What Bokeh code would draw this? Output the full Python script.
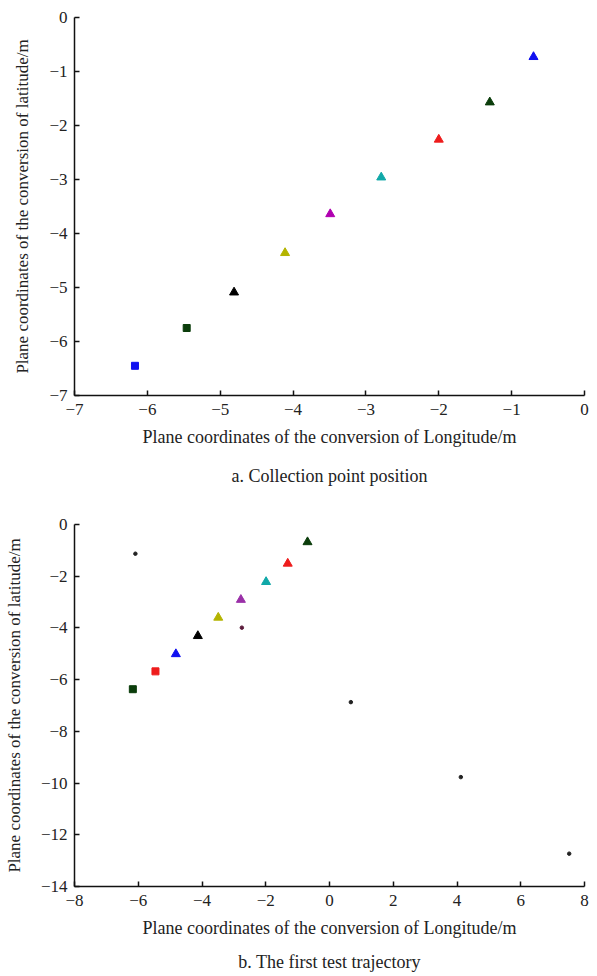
from bokeh.plotting import figure
from bokeh.layouts import column
from bokeh.models import Range1d, FixedTicker, CustomJSTickFormatter, Title
from bokeh.embed import file_html
from bokeh.resources import INLINE

# ---- data: (a) collection point position ----
a_x = [-6.17, -5.46, -4.81, -4.11, -3.49, -2.79, -2.00, -1.30, -0.70]
a_y = [-6.45, -5.75, -5.09, -4.36, -3.64, -2.96, -2.26, -1.57, -0.73]
a_marker = ["square", "square", "triangle", "triangle", "triangle", "triangle", "triangle", "triangle", "triangle"]
a_color = ["#1010f0", "#0b3d0b", "#000000", "#b4b400", "#b000b0", "#10a8a8", "#ee1c1c", "#0b3d0b", "#1010f0"]

# ---- data: (b) first test trajectory ----
b_x = [-6.17, -5.46, -4.82, -4.13, -3.49, -2.78, -1.99, -1.31, -0.69]
b_y = [-6.37, -5.68, -5.01, -4.31, -3.60, -2.91, -2.22, -1.51, -0.68]
b_marker = ["square", "square", "triangle", "triangle", "triangle", "triangle", "triangle", "triangle", "triangle"]
b_color = ["#0b3d0b", "#ee1c1c", "#1010f0", "#000000", "#b4b400", "#9a30a8", "#10a8a8", "#ee1c1c", "#0b3d0b"]
b_dot_x = [-6.09, -2.75, 0.67, 4.12, 7.52]
b_dot_y = [-1.13, -3.99, -6.87, -9.77, -12.73]
b_dot_color = ["#222222", "#5a1a3a", "#222222", "#222222", "#222222"]

a_ticks = [-7, -6, -5, -4, -3, -2, -1, 0]
b_xticks = [-8, -6, -4, -2, 0, 2, 4, 6, 8]
b_yticks = [-14, -12, -10, -8, -6, -4, -2, 0]

XLABEL = "Plane coordinates of the conversion of Longitude/m"
YLABEL = "Plane coordinates of the conversion of latitude/m"
FONT = "Liberation Serif"

fmt_code = "return tick < 0 ? '\u2212' + Math.abs(tick) : tick.toString();"


def style(p, xticks, yticks):
    p.grid.visible = False
    p.outline_line_color = None
    p.background_fill_color = "white"
    p.border_fill_color = "white"
    for ax, ticks in ((p.xaxis[0], xticks), (p.yaxis[0], yticks)):
        ax.ticker = FixedTicker(ticks=ticks)
        ax.formatter = CustomJSTickFormatter(code=fmt_code)
        ax.major_tick_in = 5
        ax.major_tick_out = 0
        ax.minor_tick_line_color = None
        ax.axis_line_width = 1.5
        ax.axis_line_color = "#111111"
        ax.major_tick_line_color = "#111111"
        ax.major_tick_line_width = 1.5
        ax.major_label_text_font = FONT
        ax.major_label_text_font_size = "17px"
        ax.major_label_text_color = "#222222"
        ax.axis_label_text_font = FONT
        ax.axis_label_text_font_style = "normal"
        ax.axis_label_text_color = "#222222"
    p.xaxis.axis_label = XLABEL
    p.yaxis.axis_label = YLABEL
    p.xaxis.axis_label_text_font_size = "18px"
    p.yaxis.axis_label_text_font_size = "17px"
    p.xaxis.major_label_standoff = 8
    p.yaxis.major_label_standoff = 7
    p.xaxis.axis_label_standoff = 9
    p.yaxis.axis_label_standoff = 14


def caption(p, text, standoff):
    t = Title(text=text, align="center", text_font=FONT, text_font_size="18px",
              text_font_style="normal", text_color="#222222", standoff=standoff)
    p.add_layout(t, "below")


p1 = figure(frame_width=510, frame_height=378, x_range=Range1d(-7, 0), y_range=Range1d(-7, 0),
            output_backend="svg", toolbar_location=None,
            min_border_left=74, min_border_right=8, min_border_top=17, min_border_bottom=0)
style(p1, a_ticks, a_ticks)
for xv, yv, m, c in zip(a_x, a_y, a_marker, a_color):
    p1.scatter([xv], [yv], marker=m, size=9 if m == "triangle" else 7, fill_color=c, line_color=c)
caption(p1, "a. Collection point position", 29)

p2 = figure(frame_width=510, frame_height=362, x_range=Range1d(-8, 8), y_range=Range1d(-14, 0),
            output_backend="svg", toolbar_location=None,
            min_border_left=74, min_border_right=8, min_border_top=24, min_border_bottom=0)
style(p2, b_xticks, b_yticks)
for xv, yv, m, c in zip(b_x, b_y, b_marker, b_color):
    p2.scatter([xv], [yv], marker=m, size=9 if m == "triangle" else 7, fill_color=c, line_color=c)
p2.scatter(b_dot_x, b_dot_y, marker="circle", size=3.5, fill_color=b_dot_color, line_color=b_dot_color)
caption(p2, "b. The first test trajectory", 19)

layout = column(p1, p2, spacing=0)
open("out.html", "w").write(file_html(layout, INLINE))
